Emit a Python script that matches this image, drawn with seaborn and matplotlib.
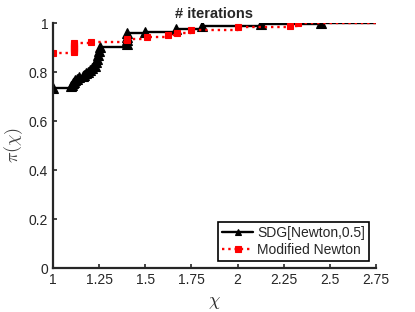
import matplotlib
matplotlib.use('Agg')
import matplotlib.pyplot as plt
import seaborn as sns

# 性能曲线数据 (阶梯图的跳变点)
sdg_x = [1.0,
         1.10, 1.105, 1.11, 1.115, 1.12, 1.13, 1.14,
         1.16, 1.17, 1.18, 1.19, 1.20, 1.21,
         1.23, 1.235, 1.24, 1.245, 1.25, 1.255,
         1.40, 1.40, 1.40, 1.40,
         1.50, 1.667, 1.81, 2.125, 2.45, 2.75]
sdg_y = [0.737,
         0.742, 0.748, 0.754, 0.760, 0.766, 0.772, 0.778,
         0.784, 0.790, 0.796, 0.802, 0.808, 0.815,
         0.825, 0.840, 0.855, 0.870, 0.885, 0.903,
         0.915, 0.930, 0.945, 0.958,
         0.962, 0.976, 0.988, 0.996, 1.0, 1.0]

mn_x = [1.0,
        1.114, 1.114, 1.114, 1.114, 1.114, 1.114, 1.114,
        1.204, 1.40, 1.40, 1.51, 1.625, 1.67, 1.75, 2.0, 2.284, 2.33, 2.75]
mn_y = [0.876,
        0.882, 0.888, 0.894, 0.900, 0.906, 0.912, 0.918,
        0.924, 0.930, 0.937, 0.942, 0.951, 0.960, 0.971, 0.985, 0.990, 1.0, 1.0]

x_ticks = [1, 1.25, 1.5, 1.75, 2, 2.25, 2.5, 2.75]
x_tick_labels = ['1', '1.25', '1.5', '1.75', '2', '2.25', '2.5', '2.75']
y_ticks = [0, 0.2, 0.4, 0.6, 0.8, 1]
y_tick_labels = ['0', '0.2', '0.4', '0.6', '0.8', '1']

sns.set_style('ticks')
plt.rcParams['font.family'] = ['Liberation Sans', 'DejaVu Sans']
plt.rcParams['mathtext.fontset'] = 'cm'
plt.rcParams['xtick.direction'] = 'in'
plt.rcParams['ytick.direction'] = 'in'

fig = plt.figure(figsize=(4.15, 3.12), dpi=100)
ax = fig.add_axes([0.1277, 0.141, 0.7783, 0.785])

sns.lineplot(x=sdg_x, y=sdg_y, ax=ax, estimator=None, sort=False,
             drawstyle='steps-post', color='black', linewidth=1.7,
             marker='^', markersize=7, markeredgewidth=0.8,
             markeredgecolor='black', markerfacecolor='black',
             markevery=list(range(len(sdg_x) - 1)),
             label='SDG[Newton,0.5]')
sns.lineplot(x=mn_x, y=mn_y, ax=ax, estimator=None, sort=False,
             drawstyle='steps-post', color='red', linewidth=1.7, linestyle=':',
             marker='s', markersize=5, markeredgewidth=0.8,
             markeredgecolor='red', markerfacecolor='red',
             markevery=list(range(len(mn_x) - 1)),
             label='Modified Newton')

ax.set_xlim(1, 2.75)
ax.set_ylim(0, 1)
ax.set_xticks(x_ticks)
ax.set_xticklabels(x_tick_labels)
ax.set_yticks(y_ticks)
ax.set_yticklabels(y_tick_labels)
ax.tick_params(axis='both', labelsize=10, colors='#262626', length=3, width=1.2)
for s in ['top', 'right']:
    ax.spines[s].set_visible(False)
for s in ['left', 'bottom']:
    ax.spines[s].set_linewidth(1.6)
    ax.spines[s].set_color('#262626')

ax.set_title('# iterations', fontsize=10.5, fontweight='bold', pad=4)
ax.set_xlabel(r'$\chi$', fontsize=13, color='#262626', labelpad=5)
ax.set_ylabel(r'$\pi(\chi)$', fontsize=13, color='#404040', labelpad=3)

leg = ax.legend(loc='lower right', fontsize=10, fancybox=False, framealpha=1,
                edgecolor='black', handlelength=2.2, borderaxespad=0.5,
                borderpad=0.3, labelspacing=0.2, handletextpad=0.3)
leg.get_frame().set_linewidth(1.2)
for h in leg.legend_handles:
    h.set_markersize(4.5)

plt.savefig('out.png', dpi=100)
